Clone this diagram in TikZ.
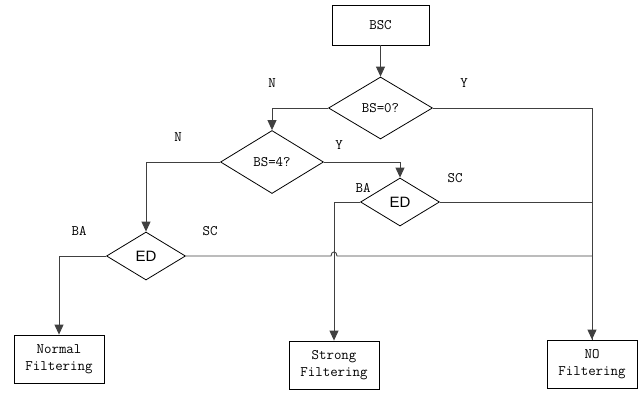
\documentclass[tikz,border=0pt]{standalone}
\usepackage{fontspec}
\setmainfont{Liberation Serif}
\newfontfamily\sansfont{Liberation Sans}
\usetikzlibrary{shapes.geometric,arrows.meta}
\begin{document}
\begin{tikzpicture}[x=1pt,y=-1pt,
  box/.style={draw=black,line width=0.8pt,minimum width=90pt,minimum height=48pt,inner sep=0pt,
    font=\ttfamily\fontsize{14.5}{17}\selectfont,align=center},
  decision/.style={draw=black,line width=0.8pt,diamond,inner sep=0pt,aspect=1.6},
  dtext/.style={font=\ttfamily\fontsize{14.5}{17}\selectfont},
  edtext/.style={font=\sansfont\fontsize{15}{18}\selectfont},
  lbl/.style={font=\ttfamily\fontsize{14.5}{17}\selectfont,inner sep=0pt},
  conn/.style={draw=black!75,line width=0.9pt},
  arr/.style={conn,-{Triangle[width=9pt,length=10pt]}}
]
\useasboundingbox (0,0) rectangle (642,394);

\node[box,minimum width=97pt,minimum height=40pt] (bsc) at (380.5,25) {BSC};
\node[decision,minimum width=104pt,minimum height=62pt,dtext] (bs0) at (380.5,108) {BS=0?};
\node[decision,minimum width=103pt,minimum height=63pt,dtext] (bs4) at (272,162) {BS=4?};
\node[decision,minimum width=79pt,minimum height=48pt,edtext] (ed1) at (146,256) {ED};
\node[decision,minimum width=79pt,minimum height=48pt,edtext] (ed2) at (400,202) {ED};
\node[box] (normal) at (59,359) {Normal\\Filtering};
\node[box] (strong) at (334,365) {Strong\\Filtering};
\node[box] (nofilt) at (592,364) {NO\\Filtering};

\coordinate (hopA) at (331,256);
\coordinate (hopB) at (337,256);

\path[arr] (bsc.south) -- (bs0.north);
\path[arr] (bs0.west) -| (bs4.north);
\path[arr] (bs0.east) -| (nofilt.north);
\path[arr] (bs4.west) -| (ed1.north);
\path[arr] (bs4.east) -| (ed2.north);
\path[arr] (ed1.west) -| (normal.north);
\path[arr] (ed2.west) -| (strong.north);
\path[conn] (ed2.east) -| (nofilt.north);
\path[conn] (ed1.east) -- (hopA) .. controls (331,250.5) and (337,250.5) .. (hopB) -- (nofilt.north |- hopB);

\node[lbl] (l1) at (272,83) {N};
\node[lbl] (l2) at (464,83) {Y};
\node[lbl] (l3) at (178,137) {N};
\node[lbl] (l4) at (339,145) {Y};
\node[lbl] (l5) at (79,231) {BA};
\node[lbl] (l6) at (210,231) {SC};
\node[lbl] (l7) at (363,188) {BA};
\node[lbl] (l8) at (455,178) {SC};
\end{tikzpicture}
\end{document}
